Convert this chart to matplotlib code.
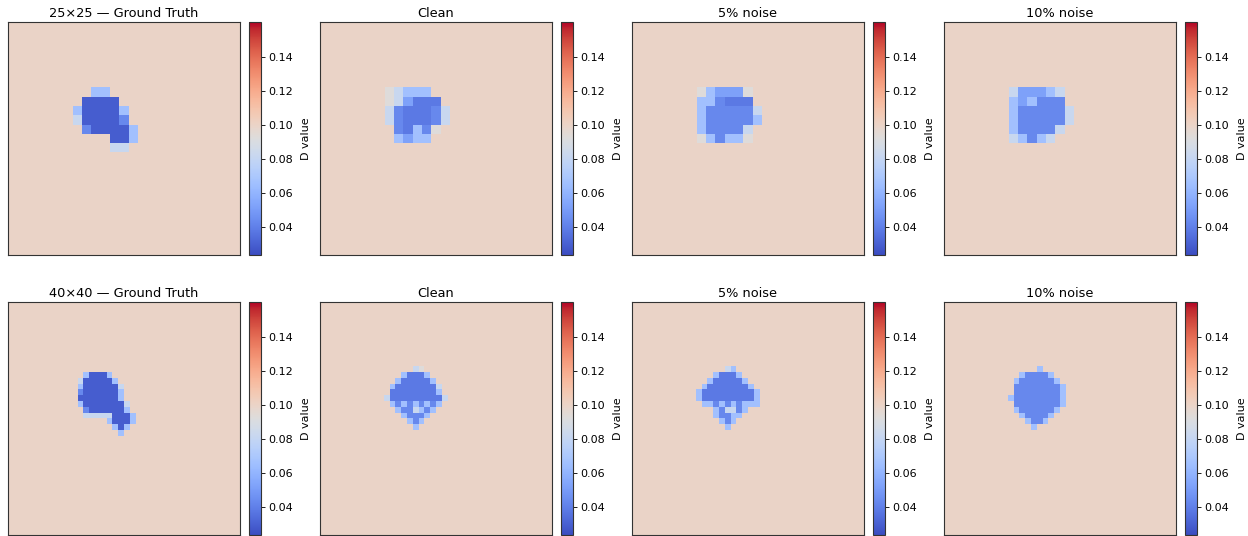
import numpy as np
import matplotlib
matplotlib.use("Agg")
import matplotlib.pyplot as plt

# value for each code letter used in the patch maps below
LEVELS = {".": 0.100, "f": 0.093, "v": 0.082, "l": 0.066,
          "k": 0.052, "m": 0.043, "n": 0.038, "d": 0.029}
BACKGROUND = LEVELS["."]
VMIN, VMAX = 0.0235, 0.1605

col_titles = ["Ground Truth", "Clean", "5% noise", "10% noise"]
grid_sizes = [25, 40]

# inclusion patches: (first row, first col, rows of codes)
gt_25 = (7, 7, ["..ll...",
                ".dddd..",
                "lddddl.",
                "vddddm.",
                ".mddddl",
                "....ddl",
                "....vv."])
clean_25 = (7, 7, ["fvlll..",
                   "fvknnn.",
                   "vmnnnmv",
                   "vmnnnmv",
                   ".mnlmf.",
                   ".lkll.."])
noise5_25 = (7, 7, ["flkkkf.",
                    "llmnnn.",
                    "lmmmmmv",
                    "lmmmmml",
                    "lmmmmv.",
                    "flmllf."])
noise10_25 = (7, 7, ["vkkklv.",
                     "lklmmm.",
                     "lmmmmmv",
                     "lmmmmmv",
                     "lmmmmv.",
                     "vlmlv.."])

gt_40 = (12, 12, [".ldddl....",
                  "vdddddl...",
                  "lddddddv..",
                  "mddddddl..",
                  "dddddddl..",
                  "ldddddddv.",
                  ".mddddddl.",
                  ".vvvvvdddl",
                  ".....ldddl",
                  "......ldl.",
                  ".......l.."])
clean_40 = (11, 11, [".....vf....",
                     "...lnnnl...",
                     "..lnnnnnl..",
                     ".lnnnnnnnv.",
                     ".nnnnnnnnl.",
                     "vnnnnnnnnnv",
                     ".lmlmlmlml.",
                     "..lmmvlml..",
                     "...lmmml...",
                     "....lml....",
                     ".....l....."])
noise5_40 = (11, 11, [".....vl.....",
                      "...lnnnl....",
                      "..lnnnnnl...",
                      ".lnnnnnnnl..",
                      "lnnnnnnnnnl.",
                      "lnnnnnnnnnl.",
                      ".llmlmlmlll.",
                      "...lmvvml...",
                      "...lmmll....",
                      "....lml.....",
                      ".....l......"])
noise10_40 = (11, 11, [".....l....",
                       "..lmmmml..",
                       ".lmmmmmml.",
                       ".mmmmmmmml",
                       ".mmmmmmmml",
                       "lmmmmmmmml",
                       ".mmmmmmmml",
                       ".lmmmmmml.",
                       "..lmmmml..",
                       "...lmml...",
                       "....l....."])

patches = [[gt_25, clean_25, noise5_25, noise10_25],
           [gt_40, clean_40, noise5_40, noise10_40]]


def build_field(n, patch):
    r0, c0, rows = patch
    field = np.full((n, n), BACKGROUND)
    for i, line in enumerate(rows):
        for j, ch in enumerate(line):
            field[r0 + i, c0 + j] = LEVELS[ch]
    return field


W, H = 1248, 536
K = 0.77  # overall text/line scale
fig = plt.figure(figsize=(W / 100, H / 100), dpi=100)

for r, n in enumerate(grid_sizes):
    top = 22 + 280 * r
    for c in range(4):
        left = 8 + 312 * c
        ax = fig.add_axes([left / W, 1 - (top + 233) / H, 232 / W, 233 / H])
        cax = fig.add_axes([(left + 241) / W, 1 - (top + 233) / H, 12 / W, 233 / H])
        field = build_field(n, patches[r][c])
        im = ax.imshow(field, cmap="coolwarm", vmin=VMIN, vmax=VMAX,
                       interpolation="nearest", aspect="auto")
        ax.set_xticks([])
        ax.set_yticks([])
        for s in ax.spines.values():
            s.set_edgecolor("#333333")
            s.set_linewidth(0.8)
        title = col_titles[c]
        if c == 0:
            title = f"{n}\u00d7{n} \u2014 {title}"
        ax.set_title(title, fontsize=12 * K, pad=3.5)
        cb = fig.colorbar(im, cax=cax)
        cb.set_ticks([0.04, 0.06, 0.08, 0.10, 0.12, 0.14])
        cb.ax.tick_params(labelsize=8, length=3.5 * K, width=0.8 * K,
                          pad=3.5 * K)
        cb.outline.set_edgecolor("#333333")
        cb.outline.set_linewidth(0.8)
        cb.set_label("D value", fontsize=8, labelpad=5.5)

fig.savefig("out.png", dpi=100)
